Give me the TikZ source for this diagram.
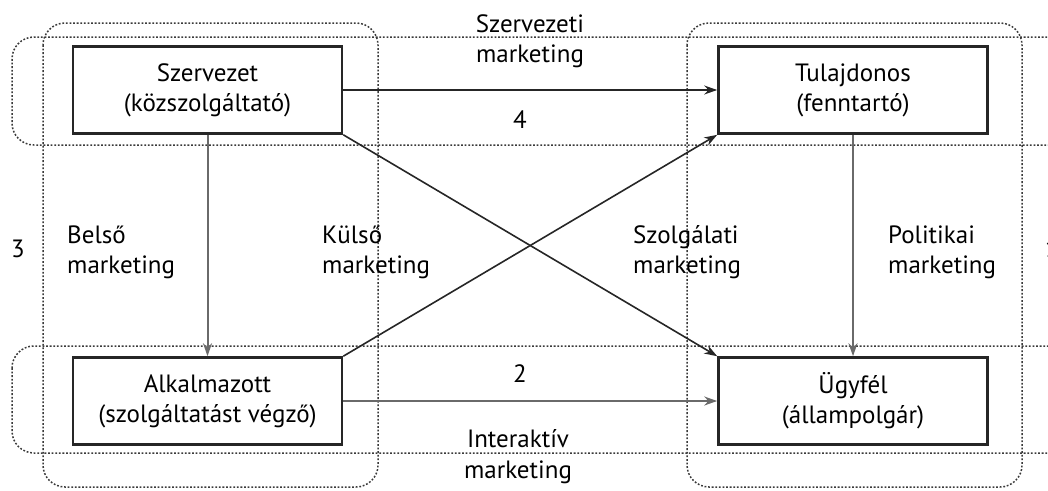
\documentclass[tikz,border=0pt]{standalone}
\usepackage{fontspec}
\setmainfont{PT Sans}
\usetikzlibrary{arrows.meta}
\definecolor{arrgray}{HTML}{6A6A6A}
\definecolor{dotgray}{HTML}{3A3A3A}
\tikzset{
  ent/.style={draw=black!85, line width=2.6pt, minimum width=269pt, minimum height=87pt, align=center, inner sep=0pt, font=\fontsize{25}{30}\selectfont},
  lbl/.style={align=left, inner sep=0pt, font=\fontsize{25}{30}\selectfont},
  clbl/.style={align=center, inner sep=0pt, font=\fontsize{25}{30}\selectfont},
  band/.style={draw=dotgray, line width=1.5pt, dash pattern=on 1.8pt off 1.8pt, rounded corners=22pt},
  blk/.style={draw=black!85, line width=1.6pt, -{Stealth[length=13pt,width=9pt]}},
  gry/.style={draw=arrgray, line width=2pt, -{Stealth[length=13pt,width=9pt]}}
}
\begin{document}
\begin{tikzpicture}[x=1pt,y=-1pt]
\useasboundingbox (0,0) rectangle (1048,490);
\clip (0,0) rectangle (1048,490);
% dotted groups
\draw[band] (12,37) rectangle (1075,145);
\draw[band] (12,346) rectangle (1075,453);
\draw[band] (43,23) rectangle (378,487);
\draw[band] (687,23) rectangle (1022,487);
% entities
\node[ent, fill=white] (sz) at (207.5,90) {Szervezet\\(közszolgáltató)};
\node[ent, fill=white] (tu) at (853,90) {Tulajdonos\\(fenntartó)};
\node[ent, fill=white] (al) at (207.5,401) {Alkalmazott\\(szolgáltatást végző)};
\node[ent, fill=white] (ug) at (853,401) {Ügyfél\\(állampolgár)};
% connectors
\draw[blk] (sz.east) -- (tu.west);
\draw[blk] (sz.south east) -- (ug.north west);
\draw[blk] (al.north east) -- (tu.south west);
\draw[gry] (al.east) -- (ug.west);
\draw[gry] (sz.south) -- (al.north);
\draw[gry] (tu.south) -- (ug.north);
% labels
\node[clbl, anchor=base] (t1) at (530,32) {Szervezeti};
\node[clbl, anchor=base] (t2) at (530,62) {marketing};
\node[clbl, anchor=base] (n4) at (520,128) {4};
\node[clbl, anchor=base] (n2) at (520,382) {2};
\node[clbl, anchor=base] (b1) at (518,447) {Interaktív};
\node[clbl, anchor=base] (b2) at (518,478) {marketing};
\node[clbl, anchor=base] (n3) at (18,257) {3};
\node[lbl, anchor=base west] (l1) at (67,243) {Belső};
\node[lbl, anchor=base west] (l2) at (67,273) {marketing};
\node[lbl, anchor=base west] (k1) at (322,243) {Külső};
\node[lbl, anchor=base west] (k2) at (322,273) {marketing};
\node[lbl, anchor=base west] (s1) at (633,243) {Szolgálati};
\node[lbl, anchor=base west] (s2) at (633,273) {marketing};
\node[lbl, anchor=base west] (p1) at (888,243) {Politikai};
\node[lbl, anchor=base west] (p2) at (888,273) {marketing};
\node[clbl, anchor=base west] (n1) at (1045,257) {1};
\end{tikzpicture}
\end{document}
